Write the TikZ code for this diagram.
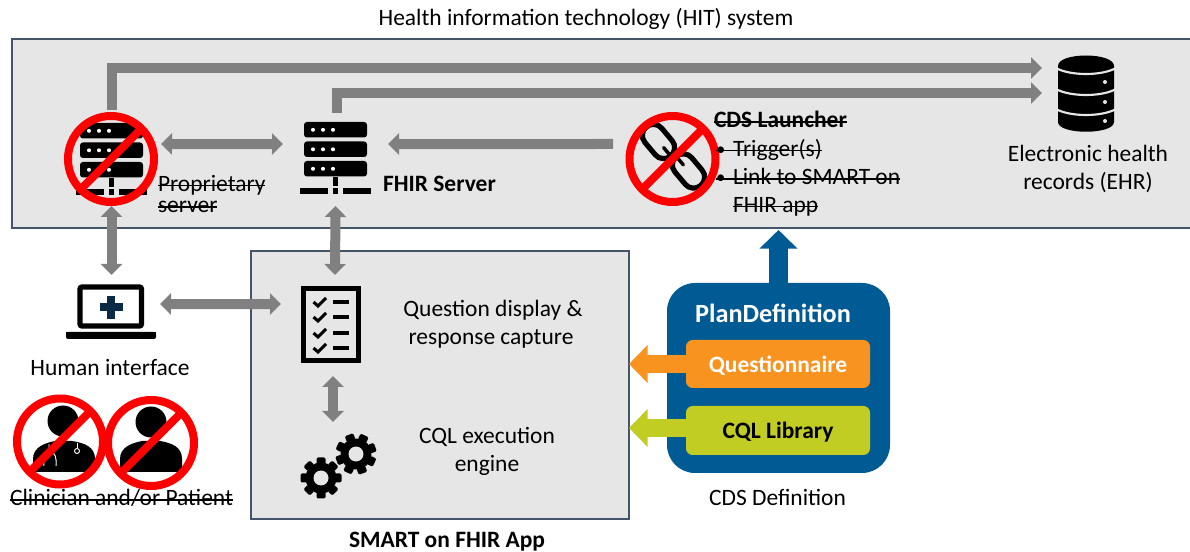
\documentclass[tikz,border=0pt]{standalone}
\usepackage{fontspec}
\setmainfont{Carlito}
\usetikzlibrary{arrows.meta}
\definecolor{panel}{HTML}{E6E6E6}
\definecolor{edge}{HTML}{44546A}
\definecolor{flow}{HTML}{808080}
\definecolor{planblue}{HTML}{005A94}
\definecolor{qorange}{HTML}{F7931E}
\definecolor{cqlgreen}{HTML}{C1CD23}
\definecolor{crossnavy}{HTML}{0B2A45}
\newsavebox\strkbox
\newcommand\strk[1]{\sbox\strkbox{#1}\usebox\strkbox\llap{\rule[0.23em]{\wd\strkbox}{0.065em}}}
\newcommand\bul{\makebox[12.75pt][l]{\raisebox{0.05em}{\scalebox{0.8}{•}}}}
\tikzset{
  x=0.75pt,y=-0.75pt,
  txt/.style={inner sep=0pt,outer sep=0pt,font=\fontsize{17.6}{20}\selectfont,anchor=base},
  txtl/.style={txt,anchor=base west},
  bold/.style={font=\fontsize{17.6}{20}\selectfont\bfseries},
  anchorbox/.style={inner sep=0pt,outer sep=0pt,minimum width=#1*0.75pt},
  flowline/.style={draw=flow,line width=7.5pt,miter limit=10,
    -{Triangle[width=15.75pt,length=8.25pt]}},
  flowboth/.style={draw=flow,line width=7.5pt,
    {Triangle[width=15.75pt,length=8.25pt]}-{Triangle[width=15.75pt,length=8.25pt]}},
  bigarrow/.style={draw=#1,line width=14pt,-{Triangle[width=27.75pt,length=14pt]}},
  forbid/.pic={
    \draw[red,line width=6pt] (0,0) circle[radius=43];
    \draw[red,line width=6pt] (-30.5,30.5) -- (30.5,-30.5);
  },
  serverpic/.pic={
    \foreach \yy in {122,141.5,161}{
      \fill[black,rounded corners=2.2pt] (304,\yy) rectangle (367,\yy+15.5);
      \foreach \xx in {313,323,333}\fill[white] (\xx,\yy+7.8) circle[radius=2];
    }
    \fill[black] (333,177) rectangle (338,186);
    \fill[black] (300,188) rectangle (328,194);
    \fill[black] (333,188) rectangle (338,194);
    \fill[black] (343,188) rectangle (371,194);
  },
  gearpic/.pic={
    \foreach \a in {0,45,...,315}
      \fill[black,rotate=\a,rounded corners=1pt] (-4.5,-14) rectangle (4.5,-20.5);
    \fill[black] (0,0) circle[radius=15.5];
    \fill[panel] (0,0) circle[radius=7.5];
  },
  linkpic/.pic={
    \draw[black,line width=3.9pt,rounded corners=8.2pt,rotate=40]
      (-11,-19) rectangle (11,19);
  }
}
\begin{document}
\begin{tikzpicture}
\useasboundingbox (0,0) rectangle (1190,552);

% panels
\node[fill=panel,inner sep=0pt,outer sep=0pt,minimum width=1178*0.75pt,minimum height=189*0.75pt] (hit) at (601,133.5) {};
\draw[edge,line width=0.9pt] (hit.north east) -- (hit.north west) -- (hit.south west) -- (hit.south east);
\node[fill=panel,draw=edge,line width=0.8pt,inner sep=0pt,outer sep=0pt,minimum width=378*0.75pt,minimum height=268*0.75pt] (smart) at (440,385) {};

% anchor boxes for the icons
\node[anchorbox=99,minimum height=96*0.75pt] (prop) at (111.5,158) {};
\node[anchorbox=105,minimum height=93*0.75pt] (fhir) at (335.5,159.5) {};
\node[anchorbox=119,minimum height=94*0.75pt] (cds) at (672.5,159) {};
\node[anchorbox=72,minimum height=75*0.75pt] (ehr) at (1078,80.5) {};
\node[anchorbox=97,minimum height=64*0.75pt] (laptop) at (111.5,307) {};
\node[anchorbox=108,minimum height=101*0.75pt] (form) at (335,325.5) {};
\node[anchorbox=90,minimum height=78*0.75pt] (gears) at (333,461) {};

% plan definition
\node[fill=planblue,rounded corners=21pt,inner sep=0pt,outer sep=0pt,minimum width=223*0.75pt,minimum height=190*0.75pt] (plan) at (778.5,378) {};
\node[fill=qorange,rounded corners=5pt,inner sep=0pt,outer sep=0pt,minimum width=184*0.75pt,minimum height=48*0.75pt] (quest) at (778,364) {};
\node[fill=cqlgreen,rounded corners=5pt,inner sep=0pt,outer sep=0pt,minimum width=184*0.75pt,minimum height=49*0.75pt] (cql) at (778,430.5) {};

% connectors
\draw[flowline] (prop.north) |- ([yshift=9.4pt]ehr.west);
\draw[flowline] ([xshift=1.2pt]fhir.north) |- ([yshift=-9.4pt]ehr.west);
\draw[flowboth] ([yshift=10.5pt]prop.east) -- ([yshift=11.6pt]fhir.west);
\draw[flowline] ([yshift=11.25pt]cds.west) -- ([yshift=11.6pt]fhir.east);
\draw[flowboth] (prop.south) -- (laptop.north);
\draw[flowboth] (fhir.south) -- (form.north);
\draw[flowboth] ([yshift=2.25pt]laptop.east) -- ([yshift=16.1pt]form.west);
\draw[flowboth] ([xshift=-1.5pt]form.south) -- (gears.north);
\draw[bigarrow=planblue,shorten >=1.5pt] (plan.north) -- (plan.north |- hit.south);
\draw[bigarrow=qorange] (quest.west) -- (quest.west -| smart.east);
\path ([yshift=1.9pt]cql.west) coordinate (cqlout);
\draw[bigarrow=cqlgreen] (cqlout) -- (cqlout -| smart.east);

% icons: servers
\pic at (0,0) {serverpic};
\pic at (-224,1) {serverpic};
\pic at (111,159) {forbid};

% chain icon
\pic at (658.5,141.5) {linkpic};
\pic at (688.5,171) {linkpic};
\begin{scope}[shift={(658.5,141.5)},rotate=40]
  \draw[black,line width=2.6pt,line cap=round] (0,17) -- (0,8);
\end{scope}
\begin{scope}[shift={(688.5,171)},rotate=40]
  \draw[black,line width=2.6pt,line cap=round] (0,-17) -- (0,-8);
\end{scope}
\pic at (672.5,159) {forbid};

% database
\fill[black] (1058,66) .. controls (1058,52) and (1114,52) .. (1114,66) -- (1114,122) .. controls (1114,135) and (1058,135) .. (1058,122) -- cycle;
\foreach \yy in {68,89,109}
  \draw[panel,line width=1.6pt] (1056,\yy) .. controls (1070,\yy+8) and (1102,\yy+8) .. (1116,\yy);
\foreach \yy in {82,102,121}
  \fill[panel] (1105,\yy) circle[radius=2];

% laptop
\draw[black,line width=3.9pt,rounded corners=1.5pt] (80,287) rectangle (141.5,326);
\fill[black,rounded corners=1.5pt] (66,332) rectangle (156,339);
\fill[black] (66,332) rectangle (156,335);
\fill[crossnavy] (107,296) rectangle (115,319);
\fill[crossnavy] (99.5,303.5) rectangle (122.5,311.5);

% checklist
\draw[black,line width=3.6pt] (303.5,288.5) rectangle (358.5,360.5);
\foreach \yy in {302,317,333,348}{
  \draw[black,line width=2.3pt] (313.5,\yy) -- (318,\yy+4) -- (326,\yy-4);
  \draw[black,line width=2.3pt] (333,\yy) -- (349,\yy);
}

% gears
\pic at (321,478) {gearpic};
\pic[rotate=20] at (356,454) {gearpic};

% people
\fill[black] (63,421) circle[radius=15.5];
\fill[black] (33,472) -- (33,459) .. controls (33,447) and (45,443) .. (55,441) -- (72,441) .. controls (85,443) and (95,447) .. (95,459) -- (95,472) -- cycle;
\draw[white,line width=0.7pt] (49,444) -- (49,450) (44,466) .. controls (43,458) and (46,452) .. (49,450) .. controls (55,452) and (57,458) .. (56,466);
\draw[white,line width=0.7pt] (77,443) -- (77,448);
\draw[white,line width=0.7pt] (77,451) circle[radius=2.5];
\fill[black] (151,422) circle[radius=15.5];
\fill[black] (120,472) -- (120,459) .. controls (120,447) and (132,443) .. (142,441) -- (160,441) .. controls (172,443) and (182,447) .. (182,459) -- (182,472) -- cycle;
\pic at (60,441.5) {forbid};
\pic at (151,443) {forbid};

% labels
\node[txt] (title) at (586,26) {Health information technology (HIT) system};
\node[txtl] (t1) at (158,191.5) {\strk{Proprietary}};
\node[txtl] (t2) at (158,213) {\strk{server}};
\node[txtl,bold] (t3) at (383,192) {FHIR Server};
\node[txtl,bold] (t4) at (714,128) {\strk{CDS Launcher}};
\node[txtl] (t5) at (716,156.5) {\strk{\bul Trigger(s)}};
\node[txtl] (t6) at (716,185) {\strk{\bul Link to SMART on}};
\node[txtl] (t7) at (733,212.5) {\strk{FHIR app}};
\node[txt] (t8) at (1088,162) {Electronic health};
\node[txt] (t9) at (1088,190) {records (EHR)};
\node[txt] (t10) at (493,316.5) {Question display \&};
\node[txt] (t11) at (491,344.5) {response capture};
\node[txt] (t12) at (487,443.5) {CQL execution};
\node[txt] (t13) at (487,471.5) {engine};
\node[txt] (t14) at (110,375.5) {Human interface};
\node[txt] (t15) at (121.5,506) {\strk{Clinician and/or Patient}};
\node[txt,bold] (t16) at (447,547.5) {SMART on FHIR App};
\node[txt] (t17) at (777.5,506) {CDS Definition};
\node[txt,bold,white,font=\fontsize{19.7}{22}\selectfont\bfseries] (t18) at (773,322.5) {PlanDefinition};
\node[txt,bold,white] (t19) at (778,372.5) {Questionnaire};
\node[txt,bold,black] (t20) at (778,438.5) {CQL Library};
\end{tikzpicture}
\end{document}
